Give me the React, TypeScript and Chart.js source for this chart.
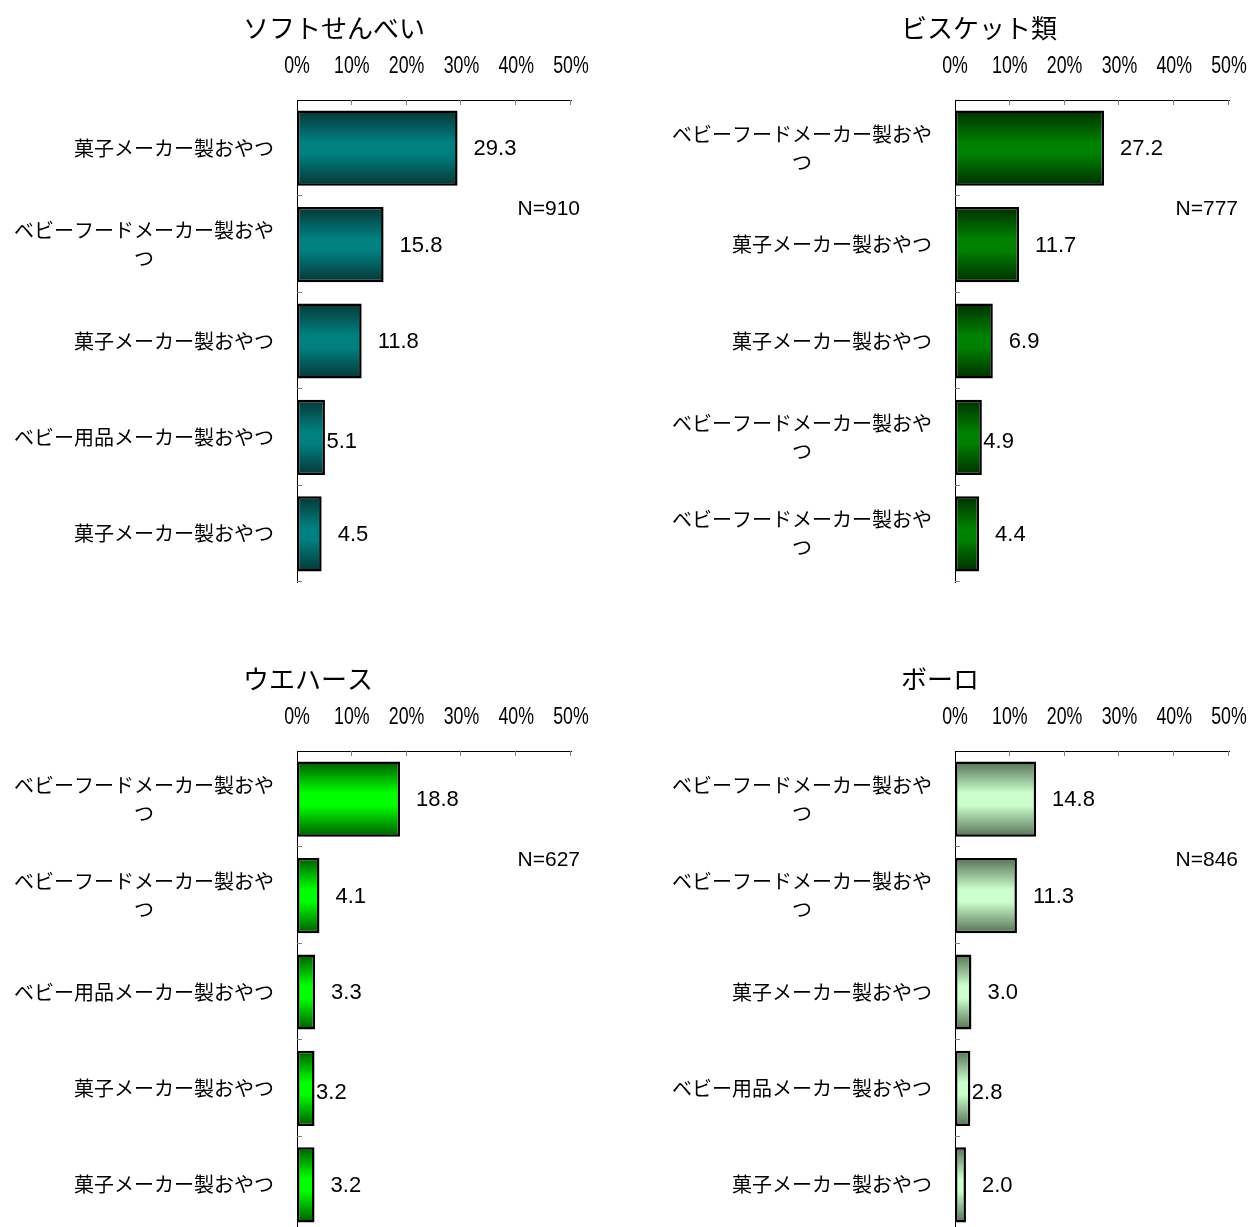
import React, { useEffect, useRef } from "react";
import { Chart, registerables } from "chart.js";

Chart.register(...registerables);

// ---- data ----
const softTitle = "ソフトせんべい";
const softSample = "N=910";
const softCategories = [
  "菓子メーカー製おやつ",
  "ベビーフードメーカー製おやつ",
  "菓子メーカー製おやつ",
  "ベビー用品メーカー製おやつ",
  "菓子メーカー製おやつ",
];
const softValues = [29.3, 15.8, 11.8, 5.1, 4.5];

const biscuitTitle = "ビスケット類";
const biscuitSample = "N=777";
const biscuitCategories = [
  "ベビーフードメーカー製おやつ",
  "菓子メーカー製おやつ",
  "菓子メーカー製おやつ",
  "ベビーフードメーカー製おやつ",
  "ベビーフードメーカー製おやつ",
];
const biscuitValues = [27.2, 11.7, 6.9, 4.9, 4.4];

const waferTitle = "ウエハース";
const waferSample = "N=627";
const waferCategories = [
  "ベビーフードメーカー製おやつ",
  "ベビーフードメーカー製おやつ",
  "ベビー用品メーカー製おやつ",
  "菓子メーカー製おやつ",
  "菓子メーカー製おやつ",
];
const waferValues = [18.8, 4.1, 3.3, 3.2, 3.2];

const boroTitle = "ボーロ";
const boroSample = "N=846";
const boroCategories = [
  "ベビーフードメーカー製おやつ",
  "ベビーフードメーカー製おやつ",
  "菓子メーカー製おやつ",
  "ベビー用品メーカー製おやつ",
  "菓子メーカー製おやつ",
];
const boroValues = [14.8, 11.3, 3.0, 2.8, 2.0];

const percentTicks = [0, 10, 20, 30, 40, 50];

// ---- layout ----
const PANEL_W = 650;
const PANEL_H = 640;
const AXIS_LEFT = 297;
const AXIS_RIGHT = 571;
const AXIS_TOP = 100;
const AXIS_BOTTOM = 582;
const BAR_PCT = 0.78;

const JP_FONT = '"Noto Sans CJK JP", "Noto Sans CJK SC", sans-serif';
const NUM_FONT = '"Liberation Sans", Arial, sans-serif';

function wrapLabel(ctx: CanvasRenderingContext2D, text: string, maxWidth: number) {
  const lines: string[] = [];
  let cur = "";
  for (const ch of Array.from(text)) {
    if (cur && ctx.measureText(cur + ch).width > maxWidth) {
      lines.push(cur);
      cur = ch;
    } else {
      cur += ch;
    }
  }
  if (cur) lines.push(cur);
  return lines;
}

type PanelProps = {
  title: string;
  sample: string;
  categories: string[];
  values: number[];
  dark: string;
  mid: string;
};

function BarPanel({ title, sample, categories, values, dark, mid }: PanelProps) {
  const ref = useRef<HTMLCanvasElement>(null);

  useEffect(() => {
    const canvas = ref.current;
    if (!canvas) return;

    const decorations = {
      id: "panelDecorations",
      afterDraw(chart: any) {
        const { ctx, chartArea } = chart;
        const xs = chart.scales.x;
        const ys = chart.scales.y;
        const n = categories.length;
        const band = (chartArea.bottom - chartArea.top) / n;

        ctx.save();
        // inward tick marks on the value axis
        ctx.strokeStyle = "#7f7f7f";
        ctx.lineWidth = 1;
        ctx.beginPath();
        percentTicks.forEach((v) => {
          if (v === 0) return;
          const px = Math.round(xs.getPixelForValue(v)) - 0.5;
          ctx.moveTo(px, chartArea.top);
          ctx.lineTo(px, chartArea.top + 5);
        });
        // tick marks between categories
        for (let i = 0; i < n; i++) {
          const py = Math.round(ys.getPixelForValue(i) + band / 2) - 0.5;
          ctx.moveTo(chartArea.left, py);
          ctx.lineTo(chartArea.left + 5, py);
        }
        ctx.stroke();

        ctx.fillStyle = "#000";
        ctx.textBaseline = "middle";

        // percent labels in a condensed face
        ctx.font = `24px ${NUM_FONT}`;
        ctx.textAlign = "center";
        percentTicks.forEach((v) => {
          const px = xs.getPixelForValue(v);
          ctx.save();
          ctx.translate(px, chartArea.top - 34);
          ctx.scale(0.74, 1);
          ctx.fillText(`${v}%`, 0, 0);
          ctx.restore();
        });

        // category labels
        ctx.font = `20px ${JP_FONT}`;
        ctx.textAlign = "center";
        const rightEdge = chartArea.left - 23;
        categories.forEach((label, i) => {
          const lines = wrapLabel(ctx, label, 270);
          const widths = lines.map((l) => ctx.measureText(l).width);
          const blockW = Math.max(...widths);
          const cx = rightEdge - blockW / 2;
          const cy = ys.getPixelForValue(i);
          const lh = 28;
          lines.forEach((l, k) => {
            ctx.fillText(l, cx, cy + (k - (lines.length - 1) / 2) * lh);
          });
        });

        // value labels
        ctx.font = `22px ${NUM_FONT}`;
        ctx.textAlign = "left";
        const meta = chart.getDatasetMeta(0);
        meta.data.forEach((bar: any, i: number) => {
          const tight = i === 3;
          const gap = tight ? 1.5 : 16;
          const dy = tight ? 4 : 0;
          ctx.fillText(values[i].toFixed(1), bar.x + gap, bar.y + 1 + dy);
        });

        // sample size
        ctx.textAlign = "right";
        ctx.font = `21px ${NUM_FONT}`;
        ctx.fillText(sample, chartArea.right + 9, chartArea.top + 109);

        // panel title
        ctx.font = `26px ${JP_FONT}`;
        ctx.textAlign = "left";
        ctx.fillText(title, chartArea.left - 54, 28);
        ctx.restore();
      },
    };

    const chart = new Chart(canvas, {
      type: "bar",
      data: {
        labels: categories,
        datasets: [
          {
            data: values,
            borderColor: "#000",
            borderWidth: 2.5,
            borderSkipped: false,
            barPercentage: BAR_PCT,
            categoryPercentage: 1,
            backgroundColor: (c: any) => {
              const ch = c.chart;
              const ys = ch.scales && ch.scales.y;
              if (!ys || c.dataIndex === undefined || !ch.chartArea) return mid;
              const cy = ys.getPixelForValue(c.dataIndex);
              const half = ((ys.bottom - ys.top) / categories.length) * BAR_PCT / 2;
              const g = ch.ctx.createLinearGradient(0, cy - half, 0, cy + half);
              g.addColorStop(0, dark);
              g.addColorStop(0.42, mid);
              g.addColorStop(0.58, mid);
              g.addColorStop(1, dark);
              return g;
            },
          },
        ],
      },
      options: {
        indexAxis: "y",
        responsive: false,
        maintainAspectRatio: false,
        animation: false,
        layout: {
          padding: {
            left: 0,
            top: 0,
            right: PANEL_W - AXIS_RIGHT,
            bottom: PANEL_H - AXIS_BOTTOM,
          },
        },
        plugins: {
          legend: { display: false },
          tooltip: { enabled: false },
          title: { display: false },
        },
        scales: {
          x: {
            type: "linear",
            position: "top",
            min: 0,
            max: 50,
            afterBuildTicks: (s: any) => {
              s.ticks = percentTicks.map((v) => ({ value: v }));
            },
            ticks: { display: false },
            grid: { display: false, drawTicks: false },
            border: { display: true, color: "#000", width: 1 },
            afterFit: (s: any) => {
              s.height = AXIS_TOP;
            },
          },
          y: {
            type: "category",
            position: "left",
            ticks: { display: false },
            grid: { display: false, drawTicks: false },
            border: { display: true, color: "#000", width: 1 },
            afterFit: (s: any) => {
              s.width = AXIS_LEFT;
            },
          },
        },
      },
      plugins: [decorations],
    } as any);

    return () => chart.destroy();
  }, []);

  return <canvas ref={ref} width={PANEL_W} height={PANEL_H} style={{ display: "block" }} />;
}

export default function App() {
  return (
    <div
      style={{
        position: "absolute",
        left: 0,
        top: 0,
        width: 1250,
        height: 1227,
        overflow: "hidden",
        background: "#fff",
      }}
    >
      <div style={{ position: "absolute", left: 0, top: 0 }}>
        <BarPanel
          title={softTitle}
          sample={softSample}
          categories={softCategories}
          values={softValues}
          dark="#073636"
          mid="#008080"
        />
      </div>
      <div style={{ position: "absolute", left: 658, top: 0 }}>
        <BarPanel
          title={biscuitTitle}
          sample={biscuitSample}
          categories={biscuitCategories}
          values={biscuitValues}
          dark="#002e00"
          mid="#008000"
        />
      </div>
      <div style={{ position: "absolute", left: 0, top: 651 }}>
        <BarPanel
          title={waferTitle}
          sample={waferSample}
          categories={waferCategories}
          values={waferValues}
          dark="#005a00"
          mid="#00ff00"
        />
      </div>
      <div style={{ position: "absolute", left: 658, top: 651 }}>
        <BarPanel
          title={boroTitle}
          sample={boroSample}
          categories={boroCategories}
          values={boroValues}
          dark="#557055"
          mid="#ccffcc"
        />
      </div>
    </div>
  );
}
